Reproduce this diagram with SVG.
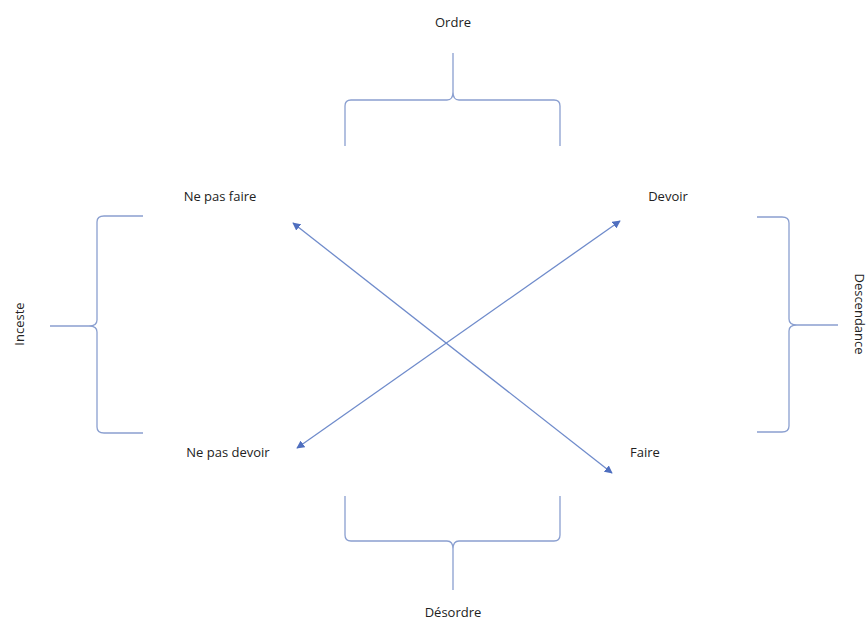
<svg xmlns="http://www.w3.org/2000/svg" width="868" height="628" viewBox="0 0 868 628">
<style>
text{font-family:"Open Sans","Liberation Sans",sans-serif;font-size:13px;fill:#222}
.br{fill:none;stroke:#8a9fd0;stroke-width:1.3}
.ar{stroke:#6f8bcb;stroke-width:1.3;fill:none;marker-start:url(#ah);marker-end:url(#ah)}
</style>
<defs>
<marker id="ah" viewBox="0 0 10 10" refX="9" refY="5" markerWidth="8" markerHeight="8" markerUnits="userSpaceOnUse" orient="auto-start-reverse">
<path d="M0,0 L10,5 L0,10 z" fill="#4f6fbf"/>
</marker>
</defs>
<g id="connectors">
<line class="ar" x1="293" y1="223" x2="612" y2="473"/>
<line class="ar" x1="620" y1="221" x2="297" y2="448"/>
</g>
<g id="brace-ordre">
<path class="br" d="M345,146 V106 Q345,100 351,100 H447 Q453,100 453,92 V53 M453,92 Q453,100 459,100 H554 Q560,100 560,106 V146"/>
<text x="453" y="27" text-anchor="middle">Ordre</text>
</g>
<g id="brace-desordre">
<path class="br" d="M345,496 V535 Q345,541 351,541 H447 Q453,541 453,549 V590 M453,549 Q453,541 459,541 H554 Q560,541 560,535 V496"/>
<text x="453" y="617" text-anchor="middle">Désordre</text>
</g>
<g id="brace-inceste">
<path class="br" d="M143,216 H104 Q97,216 97,222 V320 Q97,326 89,326 H50 M89,326 Q97,326 97,332 V427 Q97,433 104,433 H143"/>
<text transform="translate(24,324) rotate(-90)" text-anchor="middle">Inceste</text>
</g>
<g id="brace-descendance">
<path class="br" d="M757,217 H782 Q789,217 789,223 V319 Q789,325 797,325 H838 M797,325 Q789,325 789,331 V426 Q789,432 782,432 H757"/>
<text transform="translate(855,314) rotate(90)" text-anchor="middle">Descendance</text>
</g>
<g id="ne-pas-faire"><text x="220" y="201" text-anchor="middle">Ne pas faire</text></g>
<g id="devoir"><text x="668" y="201" text-anchor="middle">Devoir</text></g>
<g id="ne-pas-devoir"><text x="228" y="457" text-anchor="middle">Ne pas devoir</text></g>
<g id="faire"><text x="645" y="457" text-anchor="middle">Faire</text></g>
</svg>
